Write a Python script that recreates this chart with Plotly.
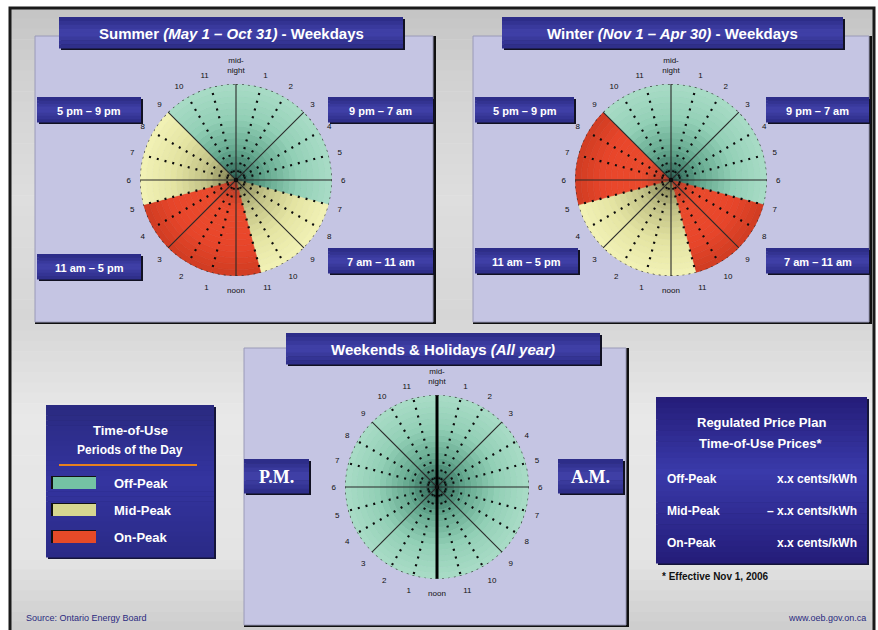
import plotly.graph_objects as go

W, H = 878, 630

# ---- data -----------------------------------------------------------------
hours = list(range(24))
hour_labels = ["mid-<br>night", "1", "2", "3", "4", "5", "6", "7", "8", "9", "10", "11",
               "noon", "1", "2", "3", "4", "5", "6", "7", "8", "9", "10", "11"]

summer_periods = ["off"] * 7 + ["mid"] * 4 + ["on"] * 6 + ["mid"] * 4 + ["off"] * 3
winter_periods = ["off"] * 7 + ["on"] * 4 + ["mid"] * 6 + ["on"] * 4 + ["off"] * 3
weekend_periods = ["off"] * 24

period_names = ["Off-Peak", "Mid-Peak", "On-Peak"]
period_keys = ["off", "mid", "on"]
price_values = ["x.x cents/kWh", "– x.x cents/kWh", "x.x cents/kWh"]

range_labels = ["5 pm – 9 pm", "9 pm – 7 am", "11 am – 5 pm", "7 am – 11 am"]

# ---- colours ----------------------------------------------------------------
GRAD = {
    "off": [(0.0, "#24574a"), (0.3, "#62a68c"), (0.65, "#92d0b6"), (1.0, "#a9dcc6")],
    "mid": [(0.0, "#6e6e44"), (0.3, "#c0c084"), (0.65, "#e4e4a2"), (1.0, "#f2f2b6")],
    "on":  [(0.0, "#a83a26"), (0.3, "#ea4a2c"), (0.7, "#e8462a"), (1.0, "#cf3c22")],
}
SWATCH = {"off": "#74c2a4", "mid": "#d6d690", "on": "#e64a28"}
LAV = "#c5c5e3"


def hx(c):
    c = c.lstrip("#")
    return tuple(int(c[i:i + 2], 16) for i in (0, 2, 4))


def mix(c1, c2, t):
    a, b = hx(c1), hx(c2)
    return "#%02x%02x%02x" % tuple(round(a[i] + (b[i] - a[i]) * t) for i in range(3))


def grad_color(stops, t):
    for (p0, c0), (p1, c1) in zip(stops, stops[1:]):
        if t <= p1:
            return mix(c0, c1, (t - p0) / (p1 - p0))
    return stops[-1][1]


def px(x):
    return x / W


def py(y):
    return 1 - y / H


shapes = []
annotations = []


def rect(x0, y0, x1, y1, fill, line_color=None, line_width=0):
    shapes.append(dict(type="rect", xref="paper", yref="paper", layer="below",
                       x0=px(x0), x1=px(x1), y0=py(y1), y1=py(y0), fillcolor=fill,
                       line=dict(color=line_color or fill, width=line_width)))


def vgrad(x0, y0, x1, y1, stops, n=30):
    step = (y1 - y0) / n
    for i in range(n):
        c = grad_color(stops, (i + 0.5) / n)
        rect(x0, y0 + i * step, x1, y0 + (i + 1) * step + 0.6, c)


def text(x, y, s, size=11, color="white", bold=True, anchor="center", family="Liberation Sans"):
    if bold:
        s = "<b>" + s + "</b>"
    annotations.append(dict(x=px(x), y=py(y), xref="paper", yref="paper", text=s,
                            showarrow=False, xanchor=anchor, yanchor="middle",
                            font=dict(size=size, color=color, family=family)))


def navy_box(x0, y0, x1, y1, label, size=11, family="Liberation Sans"):
    rect(x0 + 2, y0 + 2, x1 + 2, y1 + 2, "#111122")
    vgrad(x0, y0, x1, y1, [(0, "#2a2a84"), (0.5, "#4242aa"), (1, "#2c2c86")], n=8)
    text((x0 + x1) / 2, (y0 + y1) / 2 + 1, label, size=size, family=family)


# ---- page background and frame ---------------------------------------------
vgrad(10, 8, 874, 632, [(0, "#c4c4c4"), (0.12, "#d2d2d2"), (0.3, "#dedede"),
                        (0.5, "#d6d6d6"), (0.65, "#e8e8e8"), (0.88, "#e4e4e4"),
                        (1, "#cccccc")], n=60)
shapes.append(dict(type="rect", xref="paper", yref="paper", layer="below",
                   x0=px(10), x1=px(874), y0=py(632), y1=py(8),
                   line=dict(color="#1a1a1a", width=3)))


def panel(x0, y0, x1, y1):
    rect(x0, y0, x1 + 3, y1 + 2, "#101010")
    rect(x0, y0, x1, y1, LAV, "#9a9ab8", 1)


panel(35, 36, 433, 322)
panel(473, 36, 869, 322)
panel(244, 348, 626, 625)

# ---- clock charts -----------------------------------------------------------
fig = go.Figure()
N_BANDS = 16


def clock(periods, cx, cy, r, name, heavy_vertical=False):
    th, rr, base, cols = [], [], [], []
    for h, p in zip(hours, periods):
        for i in range(N_BANDS):
            th.append(h * 15 + 7.5)
            rr.append(1 / N_BANDS)
            base.append(i / N_BANDS)
            cols.append(grad_color(GRAD[p], (i + 0.5) / N_BANDS))
    fig.add_trace(go.Barpolar(theta=th, r=rr, base=base, width=[15] * len(th),
                              marker=dict(color=cols, line=dict(color=cols, width=0.6)),
                              hoverinfo="skip", subplot=name, showlegend=False))
    # hour spokes: dotted for each hour, solid every three hours
    for h in hours:
        if h % 3:
            line = dict(color="#0c0c0c", width=2.2, dash="2px,6px")
        elif h % 12 == 0 and heavy_vertical:
            line = dict(color="#000000", width=3)
        else:
            line = dict(color="#2a2a2a", width=1.1)
        fig.add_trace(go.Scatterpolar(theta=[h * 15, h * 15], r=[0, 1], mode="lines",
                                      line=line, hoverinfo="skip", subplot=name,
                                      showlegend=False))
    # dotted rim
    fig.add_trace(go.Scatterpolar(theta=[i * 2 for i in range(181)], r=[1] * 181,
                                  mode="lines", line=dict(color="#333333", width=1.3, dash="2px,4px"),
                                  hoverinfo="skip", subplot=name, showlegend=False))
    dom = dict(x=[px(cx - r), px(cx + r)], y=[py(cy + r), py(cy - r)])
    return dict(domain=dom, bgcolor="rgba(0,0,0,0)", bargap=0,
                radialaxis=dict(visible=False, range=[0, 1]),
                angularaxis=dict(rotation=90, direction="clockwise",
                                 tickvals=[h * 15 for h in hours], ticktext=hour_labels,
                                 ticks="outside", ticklen=7, tickcolor="rgba(0,0,0,0)",
                                 tickfont=dict(size=8, color="#111111", family="Liberation Sans"),
                                 showgrid=False, showline=False))


polar1 = clock(summer_periods, 236, 180, 96, "polar")
polar2 = clock(winter_periods, 671, 180, 96, "polar2")
polar3 = clock(weekend_periods, 437, 487, 92, "polar3", heavy_vertical=True)

# ---- titles and range labels --------------------------------------------------
navy_box(59, 17, 403, 48, "Summer <i>(May 1 – Oct 31)</i> - Weekdays", size=15)
navy_box(502, 17, 843, 48, "Winter <i>(Nov 1 – Apr 30)</i> - Weekdays", size=15)
navy_box(286, 333, 600, 364, "Weekends & Holidays <i>(All year)</i>", size=15)

navy_box(37, 97, 141, 122, range_labels[0])
navy_box(328, 97, 433, 122, range_labels[1])
navy_box(37, 254, 141, 279, range_labels[2])
navy_box(328, 248, 433, 273, range_labels[3])

navy_box(475, 97, 574, 122, range_labels[0])
navy_box(766, 97, 869, 122, range_labels[1])
navy_box(475, 248, 578, 273, range_labels[2])
navy_box(766, 248, 869, 273, range_labels[3])

navy_box(244, 459, 309, 493, "P.M.", size=18, family="Liberation Serif")
navy_box(558, 459, 623, 493, "A.M.", size=18, family="Liberation Serif")

# ---- time-of-use key ----------------------------------------------------------------
rect(48, 407, 216, 559, "#15153a")
vgrad(46, 405, 214, 557, [(0, "#2a2a80"), (0.5, "#3434a0"), (1, "#2a2a86")], n=30)
text(130, 430, "Time-of-Use", size=13)
text(130, 450, "Periods of the Day", size=12)
shapes.append(dict(type="line", xref="paper", yref="paper", x0=px(59), x1=px(197),
                   y0=py(465), y1=py(465), line=dict(color="#e8801e", width=2)))
for k, (key, nm) in enumerate(zip(period_keys, period_names)):
    yc = 483 + k * 27
    rect(51, yc - 7, 96, yc + 6, "#111111")
    rect(53, yc - 6, 96, yc + 6, SWATCH[key])
    text(112, yc, nm, size=13, anchor="left")

# ---- price box ------------------------------------------------------------------
rect(658, 399, 869, 565, "#15153a")
vgrad(656, 397, 867, 563, [(0, "#241c78"), (0.45, "#3a3aaa"), (1, "#241c78")], n=30)
text(761, 423, "Regulated Price Plan", size=13)
text(761, 443, "Time-of-Use Prices*", size=13)
for k, (nm, val) in enumerate(zip(period_names, price_values)):
    yc = 479 + k * 32
    text(665, yc, nm, size=12, anchor="left")
    text(859, yc, val, size=12, anchor="right")
text(660, 576, "* Effective Nov 1, 2006", size=10, color="#111111", anchor="left")

# ---- footer ----------------------------------------------------------------------
text(24, 618, "Source: Ontario Energy Board", size=9, color="#2a2a80", bold=False, anchor="left")
text(868, 618, "www.oeb.gov.on.ca", size=9, color="#2a2a80", bold=False, anchor="right")

fig.update_layout(width=W, height=H, margin=dict(l=0, r=0, t=0, b=0),
                  paper_bgcolor="white", plot_bgcolor="white",
                  polar=polar1, polar2=polar2, polar3=polar3,
                  shapes=shapes, annotations=annotations, showlegend=False)

fig.write_html("out.html")
